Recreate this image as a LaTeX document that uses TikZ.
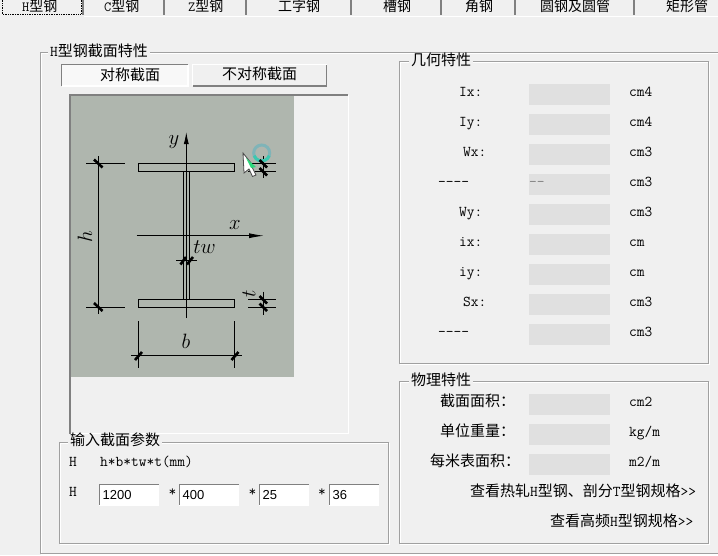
\documentclass[tikz,border=0pt]{standalone}
\usepackage{fontspec}
\setmainfont{Latin Modern Mono}
\newfontfamily\cjk{Noto Sans CJK SC}
\newfontfamily\dlgsans{Liberation Sans}
\usetikzlibrary{arrows.meta}
\definecolor{winbg}{HTML}{F0F0F0}
\definecolor{winline}{HTML}{A0A0A0}
\definecolor{windark}{HTML}{808080}
\definecolor{valfill}{HTML}{E0E0E0}
\definecolor{sectbg}{HTML}{AFB6AE}
\definecolor{ringtop}{HTML}{7FB4B8}
\definecolor{ringbot}{HTML}{3CC8B0}
\tikzset{
  txt/.style={anchor=west,inner sep=0pt,text height=12pt,text depth=3pt,font=\fontsize{15}{15}\selectfont},
  tabtxt/.style={txt,font=\fontsize{14}{14}\selectfont},
  title/.style={txt,fill=winbg,inner xsep=2pt},
  valbox/.style={draw=none,fill=valfill,minimum width=81pt,minimum height=21pt,inner sep=0pt},
  edittxt/.style={anchor=west,inner sep=0pt,font=\dlgsans\fontsize{13}{13}\selectfont},
  etchdark/.style={draw=winline,line width=1pt},
  etchlight/.style={draw=white,line width=1pt},
  sunk/.style={draw=windark,line width=1.5pt},
  raised/.style={draw=white,line width=1.5pt},
  thinline/.style={draw=black,line width=0.9pt},
  dimtick/.style={draw=black,line width=2.6pt},
  mathtxt/.style={inner sep=0pt,font=\fontsize{20.74}{20.74}\selectfont}
}
\begin{document}
\begin{tikzpicture}[x=1pt,y=-1pt]
  \useasboundingbox (0,0) rectangle (718,555);
  \clip (0,0) rectangle (718,555);
  \fill[winbg] (0,0) rectangle (718,555);
  \draw[etchlight] (84,16.5) -- (718,16.5);
  \begin{scope}[line width=1.5pt]
    \draw[windark] (83,0) -- (83,15);
    \draw[windark] (164,0) -- (164,15);
    \draw[windark] (246,0) -- (246,15);
    \draw[windark] (351,0) -- (351,15);
    \draw[windark] (441,0) -- (441,15);
    \draw[windark] (515,0) -- (515,15);
    \draw[windark] (634,0) -- (634,15);
  \end{scope}
  \draw[black,line width=0.7pt,densely dotted] (2,-2) rectangle (81,14);
  \draw
    (22,7) node[tabtxt] (tabH){H{\cjk 型钢}}
    (104,7) node[tabtxt] (tabC){C{\cjk 型钢}}
    (188,7) node[tabtxt] (tabZ){Z{\cjk 型钢}}
    (278,7) node[tabtxt] (tabI){{\cjk 工字钢}}
    (383,7) node[tabtxt] (tabCh){{\cjk 槽钢}}
    (465,7) node[tabtxt] (tabL){{\cjk 角钢}}
    (540,7) node[tabtxt] (tabO){{\cjk 圆钢及圆管}}
    (666,7) node[tabtxt] (tabR){{\cjk 矩形管}};
  \draw[etchlight] (41,53) rectangle (719,554);
  \draw[etchdark] (40,52) rectangle (719,553);
  \node[title] (titleH) at (48,52) {H{\cjk 型钢截面特性}};
  \fill[white!50!winbg] (61,64) rectangle (188,86);
  \draw[raised] (61.5,86) -- (188,86) -- (188,64.5);
  \draw[sunk] (61.5,86) -- (61.5,64.5) -- (188,64.5);
  \node[txt] (btnSym) at (100,75.5) {{\cjk 对称截面}};
  \draw[raised] (192.5,86) -- (192.5,64.5) -- (327,64.5);
  \draw[sunk] (192.5,86) -- (326.5,86) -- (326.5,64.5);
  \node[txt] (btnAsym) at (222,74.5) {{\cjk 不对称截面}};
  \draw[raised,line width=1pt] (69.5,433.5) -- (348.5,433.5) -- (348.5,95);
  \draw[sunk] (70,434) -- (70,95) -- (348,95);
  \fill[sectbg] (71,96) rectangle (294,377);
  \begin{scope}[thinline]
    \node[draw=black,line width=0.9pt,minimum width=96.4pt,minimum height=8.4pt,inner sep=0pt] (flangeTop) at (186.5,167.5) {};
    \node[draw=black,line width=0.9pt,minimum width=96.4pt,minimum height=8pt,inner sep=0pt] (flangeBot) at (186.5,303.3) {};
    \draw (183,171.7) -- (183,299.3);
    \draw (189.7,171.7) -- (189.7,299.3);
    \draw[-{Latex[length=12pt,width=5pt]}] (186.3,318) -- (186.3,132);
    \draw[-{Latex[length=15pt,width=5pt]}] (136.7,235.7) -- (264,235.7);
    \draw (86,163.3) -- (125,163.3);
    \draw (86,307.3) -- (125,307.3);
    \draw (98.3,156) -- (98.3,314);
    \draw (176,260.7) -- (196.7,260.7);
    \draw (131,355.7) -- (241.7,355.7);
    \draw (138.3,321) -- (138.3,367.7);
    \draw (234.7,321) -- (234.7,367.7);
    \draw (248,163.3) -- (276,163.3);
    \draw (248,171.5) -- (276,171.5);
    \draw (248,299.3) -- (276,299.3);
    \draw (248,307.3) -- (276,307.3);
    \draw (263.3,156) -- (263.3,178);
    \draw (263.3,291.7) -- (263.3,315);
  \end{scope}
  \draw[ringtop,line width=3pt] (261.7,153) circle (8pt);
  \draw[ringbot,line width=3pt] (269.2,155.7) arc (20:160:8);
  \begin{scope}[dimtick]
    \draw (94,159.5) -- (102.5,167.5);
    \draw (94,303) -- (102.5,311);
    \draw (180.5,264.5) -- (186,257);
    \draw (187,264.5) -- (193,257);
    \draw (135,360) -- (142,352);
    \draw (231.5,360) -- (238.5,352);
    \draw (259.5,160) -- (267,167.5);
    \draw (259.5,168) -- (267,175.5);
    \draw (259.5,296) -- (267,303.5);
    \draw (259.5,303.5) -- (267,311);
  \end{scope}
  \draw
    (174,141.6) node[mathtxt] (lblY){$y$}
    (235,225) node[mathtxt] (lblX){$x$}
    (85,237) node[mathtxt,rotate=90] (lblH){$h$}
    (204.5,247) node[mathtxt] (lblTw){$tw$}
    (186,341.7) node[mathtxt] (lblB){$b$}
    (249,294) node[mathtxt,rotate=90] (lblT){$t$};
  \draw[fill=white,draw=black!70,line width=0.8pt] (243,153) -- (244,173) -- (249,169) -- (252.5,176.5) -- (256,175) -- (252.5,168) -- (251,163) -- cycle;
  \fill[ringbot!70!green] (246,158) -- (256,167) -- (251,168) -- cycle;
  \draw[etchlight] (60,443) rectangle (389,544);
  \draw[etchdark] (59,442) rectangle (388,543);
  \node[title] (titleInput) at (68,441) {{\cjk 输入截面参数}};
  \draw
    (69,462) node[txt] (lblH1){H}
    (100,462) node[txt] (lblFormula){h*b*tw*t(mm)}
    (69,492) node[txt] (lblH2){H}
    (168.5,492) node[txt] (star1){*}
    (248.5,492) node[txt] (star2){*}
    (318,492) node[txt] (star3){*};
  \draw[raised,line width=1pt] (99,505.5) -- (158.5,505.5) -- (158.5,484);
  \draw[raised,line width=1pt] (179,505.5) -- (238.5,505.5) -- (238.5,484);
  \draw[raised,line width=1pt] (259,505.5) -- (308.5,505.5) -- (308.5,484);
  \draw[raised,line width=1pt] (329,505.5) -- (378.5,505.5) -- (378.5,484);
  \fill[white] (100,485) rectangle (158,505);
  \fill[white] (180,485) rectangle (238,505);
  \fill[white] (260,485) rectangle (308,505);
  \fill[white] (330,485) rectangle (378,505);
  \draw[sunk] (99.5,505) -- (99.5,484.5) -- (158.5,484.5);
  \draw[sunk] (179.5,505) -- (179.5,484.5) -- (238.5,484.5);
  \draw[sunk] (259.5,505) -- (259.5,484.5) -- (308.5,484.5);
  \draw[sunk] (329.5,505) -- (329.5,484.5) -- (378.5,484.5);
  \draw
    (102.5,495.5) node[edittxt] (editH){1200}
    (182.5,495.5) node[edittxt] (editB){400}
    (262.5,495.5) node[edittxt] (editTw){25}
    (332.5,495.5) node[edittxt] (editT){36};
  \draw[etchlight] (400,62) rectangle (709,364);
  \draw[etchdark] (399,61) rectangle (708,363);
  \node[title] (titleGeo) at (409,61) {{\cjk 几何特性}};
  \draw
    (569.5,94.5) node[valbox] (boxIx){}
    (569.5,124.5) node[valbox] (boxIy){}
    (569.5,154.5) node[valbox] (boxWx){}
    (569.5,184.5) node[valbox] (boxDa){}
    (569.5,214.5) node[valbox] (boxWy){}
    (569.5,244.5) node[valbox] (boxix){}
    (569.5,274.5) node[valbox] (boxiy){}
    (569.5,304.5) node[valbox] (boxSx){}
    (569.5,334.5) node[valbox] (boxDb){};
  \draw
    (459,92) node[txt] (lblIx){Ix:}
    (459,122) node[txt] (lblIy){Iy:}
    (463,152) node[txt] (lblWx){Wx:}
    (438,182) node[txt] (lblDa){-{}-{}-{}-}
    (459,212) node[txt] (lblWy){Wy:}
    (459,242) node[txt] (lblix){ix:}
    (459,272) node[txt] (lbliy){iy:}
    (463,302) node[txt] (lblSx){Sx:}
    (438,332) node[txt] (lblDb){-{}-{}-{}-}
    (529,182) node[txt,text=windark] (valDa){-{}-};
  \draw
    (629,92) node[txt] (unitIx){cm4}
    (629,122) node[txt] (unitIy){cm4}
    (629,152) node[txt] (unitWx){cm3}
    (629,182) node[txt] (unitDa){cm3}
    (629,212) node[txt] (unitWy){cm3}
    (629,242) node[txt] (unitix){cm}
    (629,272) node[txt] (unitiy){cm}
    (629,302) node[txt] (unitSx){cm3}
    (629,332) node[txt] (unitDb){cm3};
  \draw[etchlight] (400,382) rectangle (709,544);
  \draw[etchdark] (399,381) rectangle (708,543);
  \node[title] (titlePhys) at (409,381) {{\cjk 物理特性}};
  \draw
    (569.5,404.5) node[valbox] (boxArea){}
    (569.5,434.5) node[valbox] (boxWt){}
    (569.5,464.5) node[valbox] (boxSurf){};
  \draw
    (440,402) node[txt] (lblArea){{\cjk 截面面积：}}
    (440,432) node[txt] (lblWt){{\cjk 单位重量：}}
    (430,462) node[txt] (lblSurf){{\cjk 每米表面积：}}
    (629,402) node[txt] (unitArea){cm2}
    (629,432) node[txt] (unitWt){kg/m}
    (629,462) node[txt] (unitSurf){m2/m}
    (470,492) node[txt] (linkHot){{\cjk 查看热轧}H{\cjk 型钢、剖分}T{\cjk 型钢规格}>{}>}
    (550,522) node[txt] (linkHf){{\cjk 查看高频}H{\cjk 型钢规格}>{}>};
\end{tikzpicture}
\end{document}
